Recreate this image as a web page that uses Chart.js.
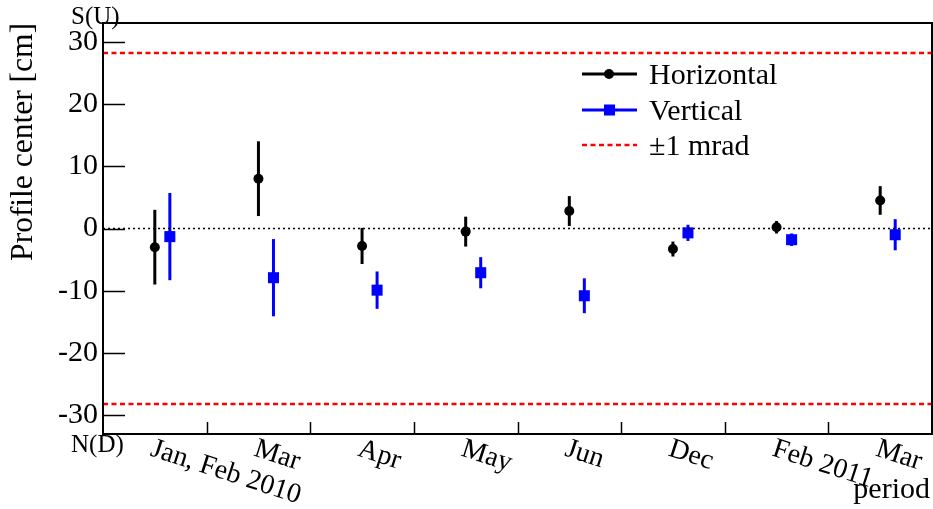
<!DOCTYPE html>
<html>
<head>
<meta charset="utf-8">
<script src="https://cdn.jsdelivr.net/npm/chart.js@4/dist/chart.umd.min.js"></script>
<style>
html, body { margin: 0; padding: 0; background: #fff; }
#wrap { width: 933px; height: 509px; }
</style>
</head>
<body>
<div id="wrap"><canvas id="chart"></canvas></div>
<script>
const periods = ["Jan, Feb 2010", "Mar", "Apr", "May", "Jun", "Dec", "Feb 2011", "Mar"];
const horizontal = [-3.0, 8.0, -2.8, -0.5, 2.8, -3.3, 0.2, 4.5];
const horizontalErr = [6.0, 6.0, 2.9, 2.4, 2.4, 1.2, 1.0, 2.3];
const vertical = [-1.3, -7.9, -9.9, -7.1, -10.8, -0.7, -1.8, -1.0];
const verticalErr = [7.0, 6.2, 3.0, 2.5, 2.8, 1.3, 1.0, 2.5];
const mradLimit = 28.2;
const yTicks = [-30, -20, -10, 0, 10, 20, 30];
const vShift = 0.145; // vertical points sit a bit right of bin centre

const serif = '"Liberation Serif", "Times New Roman", serif';

// error bars, drawn under the markers
const errorBars = {
    id: "errorBars",
    beforeDatasetsDraw(chart) {
        const ctx = chart.ctx;
        const y = chart.scales.y;
        chart.data.datasets.forEach((ds, i) => {
            if (!ds.errors) return;
            const meta = chart.getDatasetMeta(i);
            ctx.save();
            ctx.strokeStyle = ds.backgroundColor;
            ctx.lineWidth = 3;
            meta.data.forEach((pt, j) => {
                const v = ds.data[j].y;
                const e = ds.errors[j];
                ctx.beginPath();
                ctx.moveTo(pt.x, y.getPixelForValue(v + e));
                ctx.lineTo(pt.x, y.getPixelForValue(v - e));
                ctx.stroke();
            });
            ctx.restore();
        });
    }
};

// frame, ticks, rotated labels, corner texts and legend
const decorations = {
    id: "decorations",
    afterDraw(chart) {
        const ctx = chart.ctx;
        const area = chart.chartArea;
        const x = chart.scales.x;
        const y = chart.scales.y;
        ctx.save();
        ctx.strokeStyle = "#000";
        ctx.lineWidth = 1.5;
        yTicks.forEach(t => {
            const py = Math.round(y.getPixelForValue(t)) + 0.5;
            ctx.beginPath();
            ctx.moveTo(area.left, py);
            ctx.lineTo(area.left + 22, py);
            ctx.stroke();
        });
        for (let i = 1; i < periods.length; i++) {
            const px = Math.round(x.getPixelForValue(i)) + 0.5;
            ctx.beginPath();
            ctx.moveTo(px, area.bottom);
            ctx.lineTo(px, area.bottom - 12);
            ctx.stroke();
        }
        ctx.lineWidth = 2;
        ctx.strokeRect(area.left, area.top, area.right - area.left, area.bottom - area.top);

        ctx.fillStyle = "#000";
        ctx.font = "28px " + serif;
        ctx.textAlign = "left";
        ctx.textBaseline = "top";
        periods.forEach((p, i) => {
            const px = x.getPixelForValue(i + 0.5);
            ctx.save();
            ctx.translate(px + 1, area.bottom + 1);
            ctx.rotate(18 * Math.PI / 180);
            ctx.fillText(p, 0, 0);
            ctx.restore();
        });

        ctx.font = "30px " + serif;
        ctx.textAlign = "right";
        ctx.textBaseline = "alphabetic";
        ctx.fillText("period", 930, 498);

        ctx.font = "25px " + serif;
        ctx.textAlign = "left";
        ctx.fillText("S(U)", 71, 24);
        ctx.fillText("N(D)", 71, 452);

        // legend
        const rows = [
            { label: "Horizontal", color: "#000000", marker: "circle", y: 74 },
            { label: "Vertical", color: "#0000ff", marker: "rect", y: 110 },
            { label: "\u00b11 mrad", color: "#ff0000", marker: "dash", y: 145 }
        ];
        rows.forEach(r => {
            ctx.strokeStyle = r.color;
            ctx.fillStyle = r.color;
            if (r.marker === "dash") {
                ctx.lineWidth = 2.5;
                ctx.setLineDash([5, 3.5]);
            } else {
                ctx.lineWidth = 3;
                ctx.setLineDash([]);
            }
            ctx.beginPath();
            ctx.moveTo(582, r.y);
            ctx.lineTo(637, r.y);
            ctx.stroke();
            ctx.setLineDash([]);
            if (r.marker === "circle") {
                ctx.beginPath();
                ctx.arc(609, r.y, 5, 0, Math.PI * 2);
                ctx.fill();
            } else if (r.marker === "rect") {
                ctx.fillRect(604, r.y - 5.5, 11, 11);
            }
            ctx.fillStyle = "#000";
            ctx.font = "30px " + serif;
            ctx.textBaseline = "middle";
            ctx.fillText(r.label, 649, r.y + 2);
        });
        ctx.restore();
    }
};

new Chart(document.getElementById("chart"), {
    type: "scatter",
    data: {
        datasets: [
            {
                label: "zero",
                data: [{ x: 0, y: 0 }, { x: periods.length, y: 0 }],
                showLine: true,
                borderColor: "#000",
                borderWidth: 1.5,
                borderDash: [2, 3],
                pointRadius: 0
            },
            {
                label: "+1 mrad",
                data: [{ x: 0, y: mradLimit }, { x: periods.length, y: mradLimit }],
                showLine: true,
                borderColor: "#ff0000",
                borderWidth: 2.5,
                borderDash: [5, 3.5],
                pointRadius: 0
            },
            {
                label: "-1 mrad",
                data: [{ x: 0, y: -mradLimit }, { x: periods.length, y: -mradLimit }],
                showLine: true,
                borderColor: "#ff0000",
                borderWidth: 2.5,
                borderDash: [5, 3.5],
                pointRadius: 0
            },
            {
                label: "Horizontal",
                data: horizontal.map((v, i) => ({ x: i + 0.5, y: v })),
                errors: horizontalErr,
                backgroundColor: "#000000",
                borderColor: "#000000",
                pointStyle: "circle",
                pointRadius: 5,
                pointBorderWidth: 0
            },
            {
                label: "Vertical",
                data: vertical.map((v, i) => ({ x: i + 0.5 + vShift, y: v })),
                errors: verticalErr,
                backgroundColor: "#0000ff",
                borderColor: "#0000ff",
                pointStyle: "rect",
                pointRadius: 7.8,
                pointBorderWidth: 0
            }
        ]
    },
    options: {
        responsive: true,
        maintainAspectRatio: false,
        animation: false,
        layout: { autoPadding: false, padding: { left: 0, top: 22, right: 1, bottom: 0 } },
        plugins: {
            legend: { display: false },
            tooltip: { enabled: false }
        },
        scales: {
            x: {
                type: "linear",
                min: 0,
                max: periods.length,
                grid: { display: false, drawTicks: false },
                border: { display: false },
                ticks: { display: false },
                afterFit(scale) { scale.height = 75; }
            },
            y: {
                min: -33,
                max: 33,
                grid: { display: false, drawTicks: false },
                border: { display: false },
                afterBuildTicks(scale) { scale.ticks = yTicks.map(v => ({ value: v })); },
                afterFit(scale) { scale.width = 103; },
                ticks: {
                    color: "#000",
                    padding: 5,
                    font: { family: serif, size: 30 }
                },
                title: {
                    display: true,
                    text: "Profile center [cm]",
                    align: "end",
                    color: "#000",
                    padding: { top: 5 },
                    font: { family: serif, size: 31.5 }
                }
            }
        }
    },
    plugins: [errorBars, decorations]
});
</script>
</body>
</html>
